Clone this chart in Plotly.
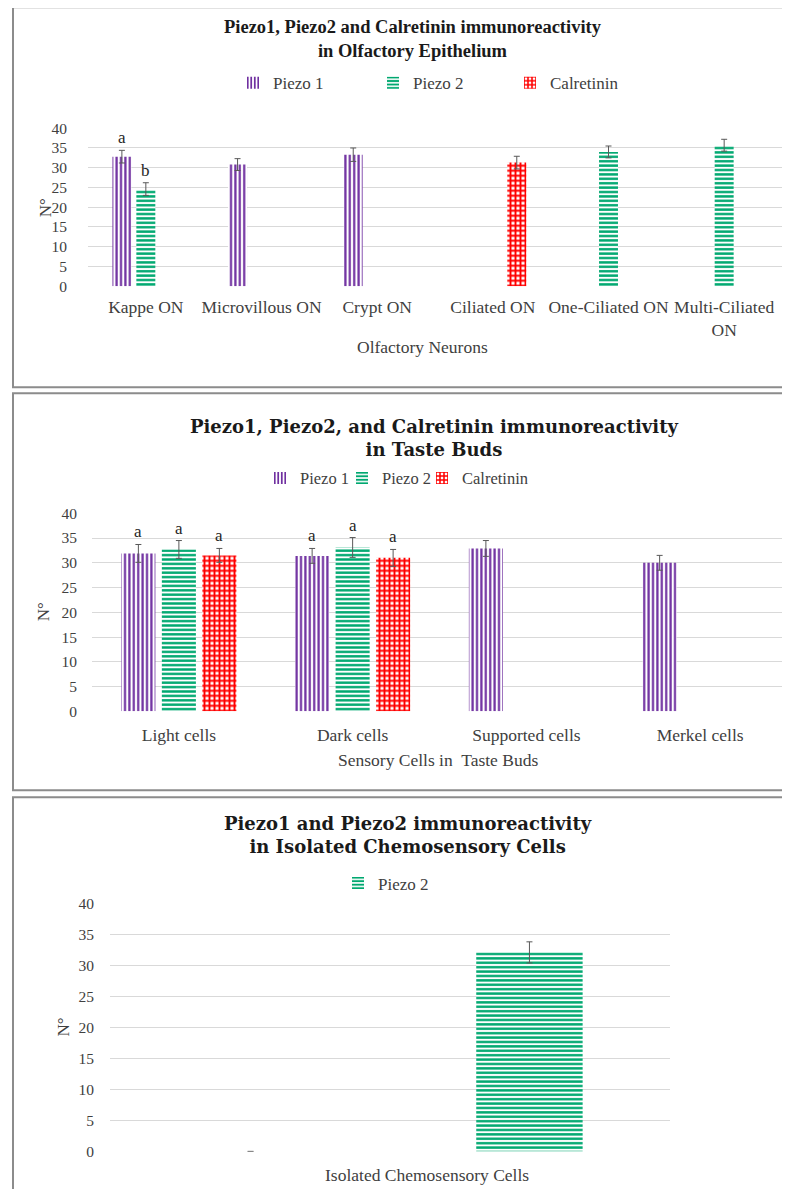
import plotly.graph_objects as go

# The page shows the figure offset by 8 px horizontally and slightly squeezed
# vertically; these constants map reference pixels onto figure fractions.
OFF_X = 8.0
OFF_Y, SCALE_Y = 16.8, 0.9855
W, H = 782, 1189

# ---------------- DATA ----------------
series_names = ["Piezo 1", "Piezo 2", "Calretinin"]

# Panel 1 - Olfactory Epithelium
p1_categories = ["Kappe ON", "Microvillous ON", "Crypt ON", "Ciliated ON",
                 "One-Ciliated ON", "Multi-Ciliated ON"]
p1_ticklabels = ["Kappe ON", "Microvillous ON", "Crypt ON", "Ciliated ON",
                 "One-Ciliated ON", "Multi-Ciliated<br>ON"]
p1_piezo1 = [32.8, 30.8, 33.3, None, None, None]
p1_piezo1_err = [1.6, 1.5, 1.7, 0, 0, 0]
p1_piezo2 = [24.6, None, None, None, 34.0, 35.7]
p1_piezo2_err = [1.6, 0, 0, 0, 1.5, 1.5]
p1_calretinin = [None, None, None, 31.3, None, None]
p1_calretinin_err = [0, 0, 0, 1.6, 0, 0]
p1_letters = [("Kappe ON", 0, "a"), ("Kappe ON", 1, "b")]
p1_title = "Piezo1, Piezo2 and Calretinin immunoreactivity<br>in Olfactory Epithelium"
p1_xtitle = "Olfactory Neurons"

# Panel 2 - Taste Buds
p2_categories = ["Light cells", "Dark cells", "Supported cells", "Merkel cells"]
p2_piezo1 = [31.9, 31.4, 32.9, 30.0]
p2_piezo1_err = [1.8, 1.5, 1.6, 1.5]
p2_piezo2 = [32.7, 33.1, None, None]
p2_piezo2_err = [1.8, 2.0, 0, 0]
p2_calretinin = [31.5, 31.0, None, None]
p2_calretinin_err = [1.4, 1.7, 0, 0]
p2_letters = [("Light cells", 0, "a"), ("Light cells", 1, "a"), ("Light cells", 2, "a"),
              ("Dark cells", 0, "a"), ("Dark cells", 1, "a"), ("Dark cells", 2, "a")]
p2_title = "Piezo1, Piezo2, and Calretinin immunoreactivity<br>in Taste Buds"
p2_xtitle = "Sensory Cells in  Taste Buds"

# Panel 3 - Isolated Chemosensory Cells
p3_categories = ["Isolated Chemosensory Cells"]
p3_piezo1 = [0]
p3_piezo1_err = [0]
p3_piezo2 = [32.1]
p3_piezo2_err = [1.7]
p3_title = "Piezo1 and Piezo2 immunoreactivity<br>in Isolated Chemosensory Cells"

y_ticks = [0, 5, 10, 15, 20, 25, 30, 35, 40]

# ---------------- STYLE ----------------
PURPLE = "#7030A0"
GREEN = "#00A870"
RED = "#FF0000"
GRID = "#D9D9D9"
TXT = "#404040"
ERR = "#595959"
SERIF = "Liberation Serif"

patterns = [
    dict(shape="|", fgcolor=PURPLE, bgcolor="white", size=4.4, solidity=0.5, fillmode="replace"),
    dict(shape="-", fgcolor=GREEN, bgcolor="white", size=4.4, solidity=0.55, fillmode="replace"),
    dict(shape="+", fgcolor=RED, bgcolor="white", size=5, solidity=0.62, fillmode="replace"),
]
colors = [PURPLE, GREEN, RED]


def px(x):
    return (x - OFF_X) / W


def py(y):
    return 1 - ((y - OFF_Y) / SCALE_Y) / H


def clamp(v):
    return max(0.0, min(1.0, v))


fig = go.Figure()
annotations = []
shapes = []

boxes = {
    1: dict(x0=88, x1=782, ytop=128, ybot=286, slot=0.207, bw=0.164, nslots=3, xstand=8),
    2: dict(x0=92, x1=787, ytop=513, ybot=711, slot=0.233, bw=0.196, nslots=3, xstand=11),
    3: dict(x0=110, x1=670, ytop=903, ybot=1151, slot=0.498, bw=0.19, nslots=2, xstand=5),
}

# one legend per item so every entry sits where the reference puts it
legend_slots = {
    (1, 0): (273, 83, 17), (1, 1): (413, 83, 17), (1, 2): (550, 83, 17),
    (2, 0): (300, 478, 16.5), (2, 1): (382, 478, 16.5), (2, 2): (462, 478, 16.5),
    (3, 1): (378, 883, 17),
}
legend_layouts = {}
legend_names = {}
_li = 0
for key, (tx, ty, fs) in legend_slots.items():
    _li += 1
    name = "legend" if _li == 1 else f"legend{_li}"
    legend_names[key] = name
    legend_layouts[name] = dict(
        orientation="h", x=px(tx - 40), y=py(ty), xanchor="left", yanchor="middle",
        font=dict(family=SERIF, size=fs, color=TXT), bgcolor="rgba(0,0,0,0)",
        borderwidth=0)


def add_panel(idx, cats, values, errs, slots):
    b = boxes[idx]
    xa = "x" if idx == 1 else f"x{idx}"
    ya = "y" if idx == 1 else f"y{idx}"
    n = b["nslots"]
    for vals, er, s in zip(values, errs, slots):
        center = (s - (n - 1) / 2) * b["slot"]
        key = (idx, s)
        fig.add_trace(go.Bar(
            x=cats, y=vals, name=series_names[s],
            xaxis=xa, yaxis=ya,
            width=b["bw"], offset=center - b["bw"] / 2,
            marker=dict(color=colors[s], pattern=patterns[s], line=dict(width=0)),
            error_y=dict(type="data", array=er, visible=True, color=ERR,
                         thickness=1, width=3),
            legend=legend_names.get(key, "legend"), showlegend=key in legend_names,
            cliponaxis=False,
        ))


add_panel(1, p1_categories,
          [p1_piezo1, p1_piezo2, p1_calretinin],
          [p1_piezo1_err, p1_piezo2_err, p1_calretinin_err], [0, 1, 2])
add_panel(2, p2_categories,
          [p2_piezo1, p2_piezo2, p2_calretinin],
          [p2_piezo1_err, p2_piezo2_err, p2_calretinin_err], [0, 1, 2])
add_panel(3, p3_categories,
          [p3_piezo1, p3_piezo2],
          [p3_piezo1_err, p3_piezo2_err], [0, 1])


def letters(idx, cats, letter_list, values, errs, axis_suffix):
    b = boxes[idx]
    n = b["nslots"]
    for cat, s, lt in letter_list:
        ci = cats.index(cat)
        v = values[s][ci]
        e = errs[s][ci]
        annotations.append(dict(
            x=ci + (s - (n - 1) / 2) * b["slot"], y=v + e,
            xref="x" + axis_suffix, yref="y" + axis_suffix,
            text=lt, showarrow=False, xanchor="center", yanchor="bottom", yshift=1,
            font=dict(family=SERIF, size=17, color="#262626")))


letters(1, p1_categories, p1_letters, [p1_piezo1, p1_piezo2, p1_calretinin],
        [p1_piezo1_err, p1_piezo2_err, p1_calretinin_err], "")
letters(2, p2_categories, p2_letters, [p2_piezo1, p2_piezo2, p2_calretinin],
        [p2_piezo1_err, p2_piezo2_err, p2_calretinin_err], "2")

axis_common_y = dict(range=[0, 40], tickvals=y_ticks, showgrid=True, gridcolor=GRID,
                     gridwidth=1, zeroline=False, showline=False, ticks="",
                     tickfont=dict(family=SERIF, size=15.5, color=TXT), fixedrange=True)
axis_common_x = dict(showgrid=False, zeroline=False, showline=False, ticks="",
                     tickfont=dict(family=SERIF, size=17.5, color=TXT), fixedrange=True)

layout_axes = {}
for idx, cats, ticklabels, standoff_y in [
        (1, p1_categories, p1_ticklabels, 20),
        (2, p2_categories, p2_categories, 14),
        (3, p3_categories, None, 15)]:
    b = boxes[idx]
    sfx = "" if idx == 1 else str(idx)
    xd = dict(axis_common_x, domain=[clamp(px(b["x0"])), clamp(px(b["x1"]))],
              range=[-0.5, len(cats) - 0.5], anchor="y" + sfx,
              categoryorder="array", categoryarray=cats, ticklabelstandoff=b["xstand"])
    if ticklabels is not None:
        xd.update(tickvals=cats, ticktext=ticklabels)
    else:
        xd.update(showticklabels=False)
    yd = dict(axis_common_y, domain=[clamp(py(b["ybot"])), clamp(py(b["ytop"]))],
              anchor="x" + sfx, ticklabelstandoff=standoff_y)
    layout_axes["xaxis" + sfx] = xd
    layout_axes["yaxis" + sfx] = yd


def paper_text(x, y, text, font, angle=0):
    annotations.append(dict(x=px(x), y=py(y), xref="paper", yref="paper", text=text,
                            showarrow=False, xanchor="center", yanchor="middle",
                            align="center", textangle=angle, font=font))


title_font_1 = dict(family=SERIF, size=18.5, color="#1a1a1a", weight="bold")
title_font_23 = dict(family="DejaVu Serif", size=18, color="#1a1a1a", weight="bold")
paper_text(413, 39, p1_title, title_font_1)
paper_text(434, 438, p2_title, title_font_23)
paper_text(408, 835, p3_title, title_font_23)

for (xx, yy) in [(45, 208), (43, 612), (63, 1027)]:
    paper_text(xx, yy, "N°", dict(family=SERIF, size=17, color=TXT), angle=-90)

paper_text(422, 347, p1_xtitle, dict(family=SERIF, size=17.5, color=TXT))
paper_text(438, 760, p2_xtitle, dict(family=SERIF, size=17.5, color=TXT))
paper_text(427, 1175, p3_categories[0], dict(family=SERIF, size=17.5, color=TXT))

for (y0, y1) in [(7, 387), (393, 790), (797, 1210)]:
    shapes.append(dict(type="rect", xref="paper", yref="paper",
                       x0=px(13), x1=px(800), y0=py(y1), y1=py(y0),
                       line=dict(color="#8C8C8C", width=2), fillcolor="rgba(0,0,0,0)"))

fig.update_layout(
    width=W, height=H,
    margin=dict(l=0, r=0, t=0, b=0),
    font=dict(family=SERIF, size=17, color=TXT),
    paper_bgcolor="white", plot_bgcolor="white",
    barmode="overlay",
    annotations=annotations, shapes=shapes,
    **legend_layouts,
    **layout_axes,
)

fig.write_html("out.html")
